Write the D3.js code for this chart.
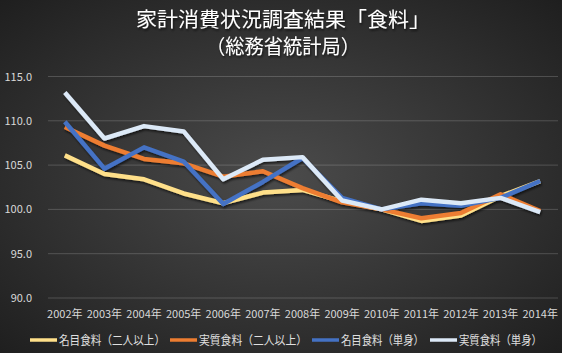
<!DOCTYPE html>
<html>
<head>
<meta charset="utf-8">
<script src="https://cdn.jsdelivr.net/npm/d3@7"></script>
<style>
  body { margin: 0; background: #1e1e1e; }
  svg { display: block; }
</style>
</head>
<body>
<svg id="chart" width="562" height="353"></svg>
<script>
// data
var years = ["2002年","2003年","2004年","2005年","2006年","2007年","2008年",
             "2009年","2010年","2011年","2012年","2013年","2014年"];
var nominalFamily = [106.1,104.0,103.4,101.8,100.7,101.9,102.2,100.9,100.0,98.7,99.3,101.5,103.2];
var realFamily    = [109.3,107.2,105.7,105.2,103.7,104.3,102.4,100.8,100.0,99.0,99.6,101.7,99.8];
var nominalSingle = [109.9,104.6,107.0,105.4,100.6,103.1,105.8,101.3,100.0,100.7,100.4,101.3,103.2];
var realSingle    = [113.2,108.0,109.4,108.8,103.4,105.6,105.9,101.0,100.0,101.1,100.7,101.3,99.7];
var seriesNames   = ["名目食料（二人以上）","実質食料（二人以上）","名目食料（単身）","実質食料（単身）"];
var yTicks = [90, 95, 100, 105, 110, 115];
var title = ["家計消費状況調査結果「食料」", "（総務省統計局）"];

var colors = ["#ffe08a", "#ed7d31", "#4472c4", "#dce9f7"];
var width = 562, height = 353;
var margin = {top: 60, right: 2, bottom: 55, left: 45};
var svg = d3.select("#chart");
var font = "'Noto Sans CJK JP', 'Noto Sans', sans-serif";

// background
var defs = svg.append("defs");
var grad = defs.append("radialGradient").attr("id", "bg")
    .attr("cx", "50%").attr("cy", "50%").attr("r", "75%");
grad.append("stop").attr("offset", "0%").attr("stop-color", "#4b4b4b");
grad.append("stop").attr("offset", "100%").attr("stop-color", "#1c1c1c");
svg.append("rect").attr("width", width).attr("height", height).attr("fill", "url(#bg)");

var shadow = defs.append("filter").attr("id", "shadow")
    .attr("x", "-10%").attr("y", "-10%").attr("width", "120%").attr("height", "130%");
shadow.append("feDropShadow").attr("dx", 1).attr("dy", 2).attr("stdDeviation", 1.2)
    .attr("flood-color", "#000").attr("flood-opacity", 0.6);

var x = d3.scalePoint().domain(years)
    .range([margin.left, width - margin.right]).padding(0.5);
var y = d3.scaleLinear().domain([90, 115]).range([298, 76.5]);

// gridlines + y labels
svg.append("g").selectAll("line").data(yTicks).join("line")
    .attr("x1", 48).attr("x2", 558)
    .attr("y1", function (d) { return y(d); }).attr("y2", function (d) { return y(d); })
    .attr("stroke", "#ffffff").attr("stroke-opacity", 0.18).attr("stroke-width", 1);

svg.append("g").selectAll("text").data(yTicks).join("text")
    .attr("x", 32).attr("y", function (d) { return y(d) + 4; })
    .attr("text-anchor", "end").attr("fill", "#d9d9d9")
    .attr("font-family", font).attr("font-size", 11)
    .text(function (d) { return d.toFixed(1); });

svg.append("g").selectAll("text").data(years).join("text")
    .attr("x", function (d) { return x(d); }).attr("y", 318)
    .attr("text-anchor", "middle").attr("fill", "#d9d9d9")
    .attr("font-family", font).attr("font-size", 11)
    .text(function (d) { return d; });

// lines
var line = d3.line()
    .x(function (d, i) { return x(years[i]); })
    .y(function (d) { return y(d); });

var allSeries = [nominalFamily, realFamily, nominalSingle, realSingle];
svg.append("g").attr("filter", "url(#shadow)")
  .selectAll("path").data(allSeries).join("path")
    .attr("d", line).attr("fill", "none")
    .attr("stroke", function (d, i) { return colors[i]; })
    .attr("stroke-width", 4.5).attr("stroke-linejoin", "round");

// title
var titleLen = [294, 154];
svg.append("g").attr("filter", "url(#shadow)").selectAll("text").data(title).join("text")
    .attr("x", 283).attr("y", function (d, i) { return 27 + i * 27; })
    .attr("text-anchor", "middle").attr("fill", "#ffffff")
    .attr("font-family", font).attr("font-size", 20)
    .attr("textLength", function (d, i) { return titleLen[i]; })
    .attr("lengthAdjust", "spacingAndGlyphs")
    .text(function (d) { return d; });

// legend
var legendX = [30, 170, 312, 430];
var legendLen = [106, 108, 83, 83];
var lg = svg.append("g").selectAll("g").data(seriesNames).join("g")
    .attr("transform", function (d, i) { return "translate(" + legendX[i] + ",340)"; });
lg.append("line").attr("x1", 0).attr("x2", 27).attr("y1", 0).attr("y2", 0)
    .attr("stroke", function (d, i) { return colors[i]; }).attr("stroke-width", 3.5);
lg.append("text").attr("x", 29).attr("y", 5)
    .attr("fill", "#e0e0e0").attr("font-family", font).attr("font-size", 12)
    .attr("textLength", function (d, i) { return legendLen[i]; })
    .attr("lengthAdjust", "spacingAndGlyphs")
    .text(function (d) { return d; });
</script>
</body>
</html>
